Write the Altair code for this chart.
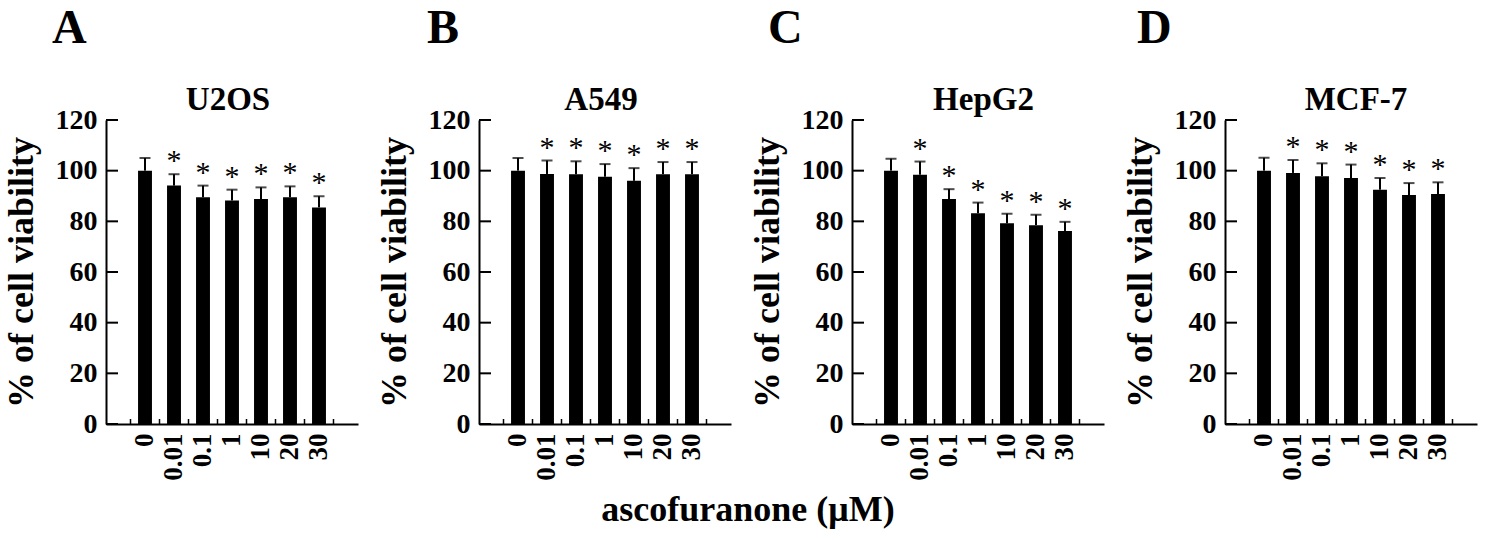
import altair as alt
import pandas as pd

conc = ["0", "0.01", "0.1", "1", "10", "20", "30"]
cells = ["U2OS", "A549", "HepG2", "MCF-7"]
letters = ["A", "B", "C", "D"]

means_u2os = [100, 94.1, 89.5, 88.2, 88.8, 89.5, 85.5]
sd_u2os = [5.0, 4.5, 4.6, 4.3, 4.6, 4.3, 4.4]
means_a549 = [100, 98.7, 98.6, 97.6, 96.0, 98.6, 98.6]
sd_a549 = [5.0, 5.3, 5.1, 5.0, 5.0, 4.8, 4.8]
means_hepg2 = [100, 98.4, 88.8, 83.2, 79.2, 78.5, 76.2]
sd_hepg2 = [4.7, 5.2, 3.9, 4.2, 3.8, 4.1, 3.6]
means_mcf7 = [100, 99.1, 97.8, 97.1, 92.5, 90.4, 90.8]
sd_mcf7 = [5.1, 5.1, 5.1, 5.3, 4.6, 4.7, 4.6]
stars = ["", "*", "*", "*", "*", "*", "*"]

y_ticks = [0, 20, 40, 60, 80, 100, 120]
x_label = "ascofuranone (\u03bcM)"
y_label = "% of cell viability"

means = [means_u2os, means_a549, means_hepg2, means_mcf7]
sds = [sd_u2os, sd_a549, sd_hepg2, sd_mcf7]

FONT = "Liberation Serif"
W, H = 252, 304
letter_dx = [-54, -52, -84, -88]
name_dx = [122, 122, 131.5, 131]


def xenc(band=0.5):
    return alt.X(
        "conc:N",
        sort=conc,
        bandPosition=band,
        title=None,
        scale=alt.Scale(paddingInner=0, paddingOuter=0.845),
        axis=alt.Axis(
            labelAngle=-90, labelFont=FONT, labelFontSize=27, labelFontWeight="bold",
            labelColor="black", domainColor="black", domainWidth=2, ticks=False,
            tickSize=0, labelPadding=9, grid=False,
        ),
    )


def yenc(field):
    return alt.Y(
        field,
        title=y_label,
        scale=alt.Scale(domain=[0, 120], nice=False),
        axis=alt.Axis(
            values=y_ticks, labelFont=FONT, labelFontSize=28, labelFontWeight="bold",
            labelColor="black", domainColor="black", domainWidth=2, ticks=False,
            tickSize=0, labelPadding=9, grid=False,
            titleFont=FONT, titleFontSize=36, titleFontWeight="bold", titleColor="black",
            titleX=-74, titleY=H / 2, titleAngle=-90, titleBaseline="alphabetic",
            titleAlign="center",
        ),
    )


panels = []
for i in range(4):
    df = pd.DataFrame({
        "conc": conc,
        "mean": means[i],
        "upper": [m + s for m, s in zip(means[i], sds[i])],
        "star": stars,
    })
    base = alt.Chart(df)
    bars = base.mark_bar(color="black", width=alt.RelativeBandSize(0.48)).encode(
        x=xenc(), y=yenc("mean:Q"))
    err = base.mark_rule(color="black", strokeWidth=2).encode(
        x=xenc(), y=yenc("mean:Q"), y2="upper:Q")
    cap = base.mark_tick(color="black", thickness=2, size=11).encode(
        x=xenc(), y=yenc("upper:Q"))
    star = base.mark_text(font=FONT, fontSize=30, color="black", baseline="alphabetic", dy=-4).encode(
        x=xenc(), y=yenc("upper:Q"), text="star:N")
    ytk = alt.Chart(pd.DataFrame({"v": y_ticks})).mark_rule(color="black", strokeWidth=2).encode(
        y=yenc("v:Q"), x=alt.value(0), x2=alt.value(12))
    xtk = base.mark_rule(color="black", strokeWidth=1.5).encode(
        x=xenc(0), y=alt.value(H), y2=alt.value(H - 5))
    xtk_end = alt.Chart(df.tail(1)).mark_rule(color="black", strokeWidth=1.5).encode(
        x=xenc(1), y=alt.value(H), y2=alt.value(H - 5))
    letter = alt.Chart(pd.DataFrame({"t": [letters[i]]})).mark_text(
        font=FONT, fontSize=48, fontWeight="bold", color="black", align="left", baseline="alphabetic"
    ).encode(text="t:N", x=alt.value(letter_dx[i]), y=alt.value(-77))
    name = alt.Chart(pd.DataFrame({"t": [cells[i]]})).mark_text(
        font=FONT, fontSize=33, fontWeight="bold", color="black", align="center", baseline="alphabetic"
    ).encode(text="t:N", x=alt.value(name_dx[i]), y=alt.value(-10))
    layers = [bars, err, cap, star, ytk, xtk, xtk_end, letter, name]
    if i == 0:
        # invisible anchor fixing the page origin relative to the first plot
        anchor = alt.Chart(pd.DataFrame({"t": [0]})).mark_rule(opacity=0, strokeWidth=1).encode(
            x=alt.value(-105.5), y=alt.value(-120), y2=alt.value(-119))
        layers.append(anchor)
    if i == 1:
        xl = alt.Chart(pd.DataFrame({"t": [x_label]})).mark_text(
            font=FONT, fontSize=36, fontWeight="bold", color="black", align="center", baseline="alphabetic"
        ).encode(text="t:N", x=alt.value(269), y=alt.value(400.5))
        layers.append(xl)
    panels.append(alt.layer(*layers).properties(width=W, height=H))

chart = alt.hconcat(*panels, spacing=121, bounds="flush").configure_view(stroke=None).properties(
    padding={"left": 0, "top": 0, "right": 5, "bottom": 5}, background="white")

chart.save("out.html", embed_options={"renderer": "svg", "actions": False})
